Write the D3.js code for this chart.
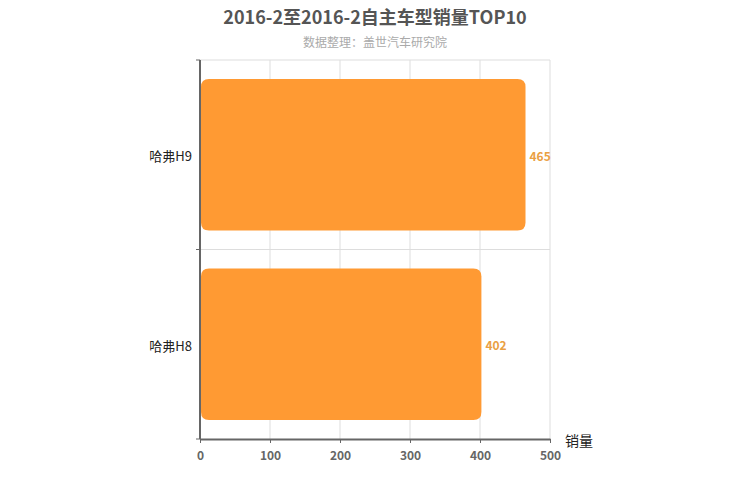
<!DOCTYPE html>
<html>
<head>
<meta charset="utf-8">
<script src="https://cdn.jsdelivr.net/npm/d3@7/dist/d3.min.js"></script>
<style>
  body { margin: 0; background: #fff; }
  svg { font-family: "Noto Sans CJK SC", "DejaVu Sans", sans-serif; }
</style>
</head>
<body>
<div class="container"></div>
<script>
// Data
var CATEGORIES = ['哈弗H9', '哈弗H8'];
var SALES = [465, 402];
var X_TICKS = [0, 100, 200, 300, 400, 500];

// Layout
var WIDTH = 750, HEIGHT = 500;
var margin = {top: 60, right: 200, bottom: 61, left: 200};
var plotW = WIDTH - margin.left - margin.right;
var plotH = HEIGHT - margin.top - margin.bottom;

var svg = d3.select('.container').append('svg')
    .attr('width', WIDTH)
    .attr('height', HEIGHT);

// Title
svg.append('text')
    .attr('x', WIDTH / 2)
    .attr('y', 24)
    .attr('text-anchor', 'middle')
    .attr('font-size', 18)
    .attr('font-weight', 'bold')
    .attr('fill', '#555')
    .text('2016-2至2016-2自主车型销量TOP10');

svg.append('text')
    .attr('x', WIDTH / 2)
    .attr('y', 47)
    .attr('text-anchor', 'middle')
    .attr('font-size', 12)
    .attr('fill', '#aaa')
    .text('数据整理：盖世汽车研究院');

var g = svg.append('g')
    .attr('transform', 'translate(' + margin.left + ',' + margin.top + ')');

// Scales
var xScale = d3.scaleLinear()
    .domain([0, 500])
    .range([0, plotW]);

var yScale = d3.scaleBand()
    .domain(CATEGORIES)
    .range([0, plotH])
    .paddingInner(0.2)
    .paddingOuter(0.1);

// Vertical grid lines
g.selectAll('.vgrid')
    .data(X_TICKS.slice(1))
    .enter().append('line')
    .attr('x1', function(d) { return xScale(d); })
    .attr('x2', function(d) { return xScale(d); })
    .attr('y1', 0)
    .attr('y2', plotH)
    .attr('stroke', '#ddd');

// Horizontal grid lines at category boundaries
var boundaries = CATEGORIES.map(function(c, i) { return i * plotH / CATEGORIES.length; });
g.selectAll('.hgrid')
    .data(boundaries)
    .enter().append('line')
    .attr('x1', 0)
    .attr('x2', plotW)
    .attr('y1', function(d) { return d; })
    .attr('y2', function(d) { return d; })
    .attr('stroke', '#ddd');

// Bars (rounded corners like the source)
var r = 8;
g.selectAll('.bar')
    .data(SALES)
    .enter().append('path')
    .attr('class', 'bar')
    .attr('fill', '#ff9a33')
    .attr('d', function(d, i) {
      var x0 = xScale(0) + 1, x1 = xScale(d);
      var y0 = yScale(CATEGORIES[i]), y1 = y0 + yScale.bandwidth();
      return 'M' + (x0 + r) + ',' + y0 +
        'L' + (x1 - r) + ',' + y0 +
        'Q' + x1 + ',' + y0 + ' ' + x1 + ',' + (y0 + r) +
        'L' + x1 + ',' + (y1 - r) +
        'Q' + x1 + ',' + y1 + ' ' + (x1 - r) + ',' + y1 +
        'L' + (x0 + r) + ',' + y1 +
        'Q' + x0 + ',' + y1 + ' ' + x0 + ',' + (y1 - r) +
        'L' + x0 + ',' + (y0 + r) +
        'Q' + x0 + ',' + y0 + ' ' + (x0 + r) + ',' + y0 + 'Z';
    });

// Value labels
g.selectAll('.label')
    .data(SALES)
    .enter().append('text')
    .attr('x', function(d) { return xScale(d) + 4; })
    .attr('y', function(d, i) { return yScale(CATEGORIES[i]) + yScale.bandwidth() / 2 + 2; })
    .attr('dy', '0.35em')
    .attr('font-size', 12)
    .attr('font-weight', 'bold')
    .attr('fill', '#eaa043')
    .text(function(d) { return d; });

// Y axis: ticks at category boundaries
g.append('line')
    .attr('x1', 0).attr('x2', 0)
    .attr('y1', 0).attr('y2', plotH)
    .attr('stroke', '#666')
    .attr('stroke-width', 2);

g.selectAll('.ytick')
    .data(boundaries.concat([plotH]))
    .enter().append('line')
    .attr('x1', -4).attr('x2', 0)
    .attr('y1', function(d) { return d; })
    .attr('y2', function(d) { return d; })
    .attr('stroke', '#666');

g.selectAll('.ylabel')
    .data(CATEGORIES)
    .enter().append('text')
    .attr('x', -8)
    .attr('y', function(d) { return yScale(d) + yScale.bandwidth() / 2 + 2; })
    .attr('dy', '0.35em')
    .attr('text-anchor', 'end')
    .attr('font-size', 13)
    .attr('fill', '#222')
    .text(function(d) { return d; });

// X axis
var xAxis = g.append('g')
    .attr('transform', 'translate(0,' + plotH + ')')
    .call(d3.axisBottom(xScale).tickValues(X_TICKS).tickSize(4).tickSizeOuter(0).tickPadding(8));
xAxis.select('.domain').attr('stroke', '#666').attr('stroke-width', 2);
xAxis.selectAll('.tick line').attr('stroke', '#666');
xAxis.selectAll('.tick text')
    .attr('fill', '#666')
    .attr('font-size', 12)
    .attr('font-weight', 'bold')
    .attr('font-family', '"Noto Sans CJK SC", sans-serif');

// X axis name
g.append('text')
    .attr('x', plotW + 15)
    .attr('y', plotH + 7)
    .attr('font-size', 14)
    .attr('fill', '#222')
    .text('销量');
</script>
</body>
</html>
